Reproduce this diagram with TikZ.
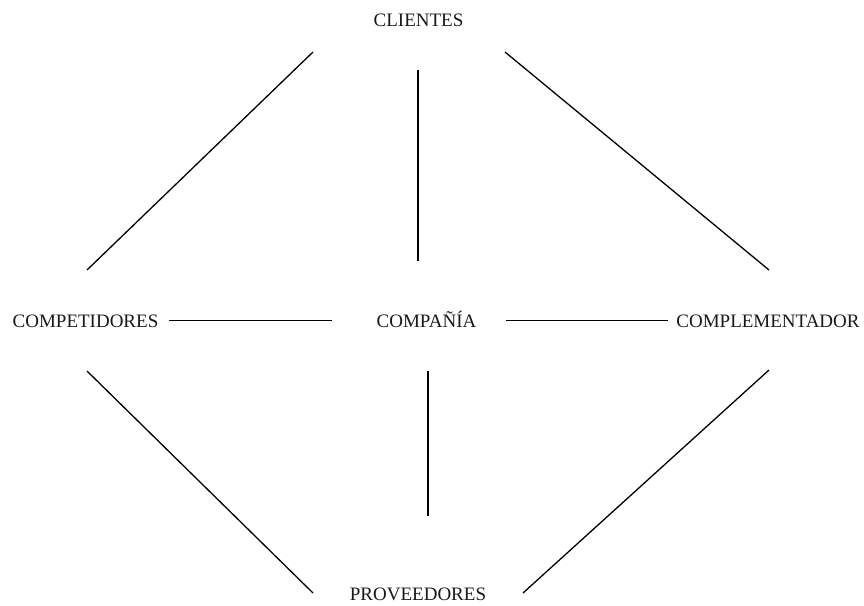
\documentclass[tikz,border=0pt]{standalone}
\usepackage{fontspec}
\setmainfont{Liberation Serif}
\begin{document}
\begin{tikzpicture}[x=1pt,y=-1pt,
  actor/.style={font=\fontsize{19}{22}\selectfont, inner sep=0pt, anchor=base, text=black!90},
  link/.style={line width=1.3pt, black}]
\useasboundingbox (0,0) rectangle (864,605);
% the five players
\node[actor] (cli)  at (418.5,27)  {CLIENTES};
\node[actor] (comp) at (85.5,327)  {COMPETIDORES};
\node[actor] (cia)  at (426.5,327) {COMPAÑÍA};
\node[actor] (compl) at (768,327)  {COMPLEMENTADOR};
\node[actor] (prov) at (418,600)   {PROVEEDORES};
% connector end points
\coordinate (a1) at (313,52);  \coordinate (a2) at (87,270);
\coordinate (b1) at (418,70);  \coordinate (b2) at (418,261);
\coordinate (c1) at (505,52);  \coordinate (c2) at (769,270);
\coordinate (d1) at (169,320.5); \coordinate (d2) at (332,320.5);
\coordinate (e1) at (506,320.5); \coordinate (e2) at (668,320.5);
\coordinate (f1) at (87,371);  \coordinate (f2) at (313,593);
\coordinate (g1) at (428,371); \coordinate (g2) at (428,516);
\coordinate (h1) at (769,370); \coordinate (h2) at (523,593);
% connectors
\draw[link] (a1) -- (a2);
\draw[link] (b1) -- (b2);
\draw[link] (c1) -- (c2);
\draw[link] (d1) -- (d2);
\draw[link] (e1) -- (e2);
\draw[link] (f1) -- (f2);
\draw[link] (g1) -- (g2);
\draw[link] (h1) -- (h2);
\end{tikzpicture}
\end{document}
